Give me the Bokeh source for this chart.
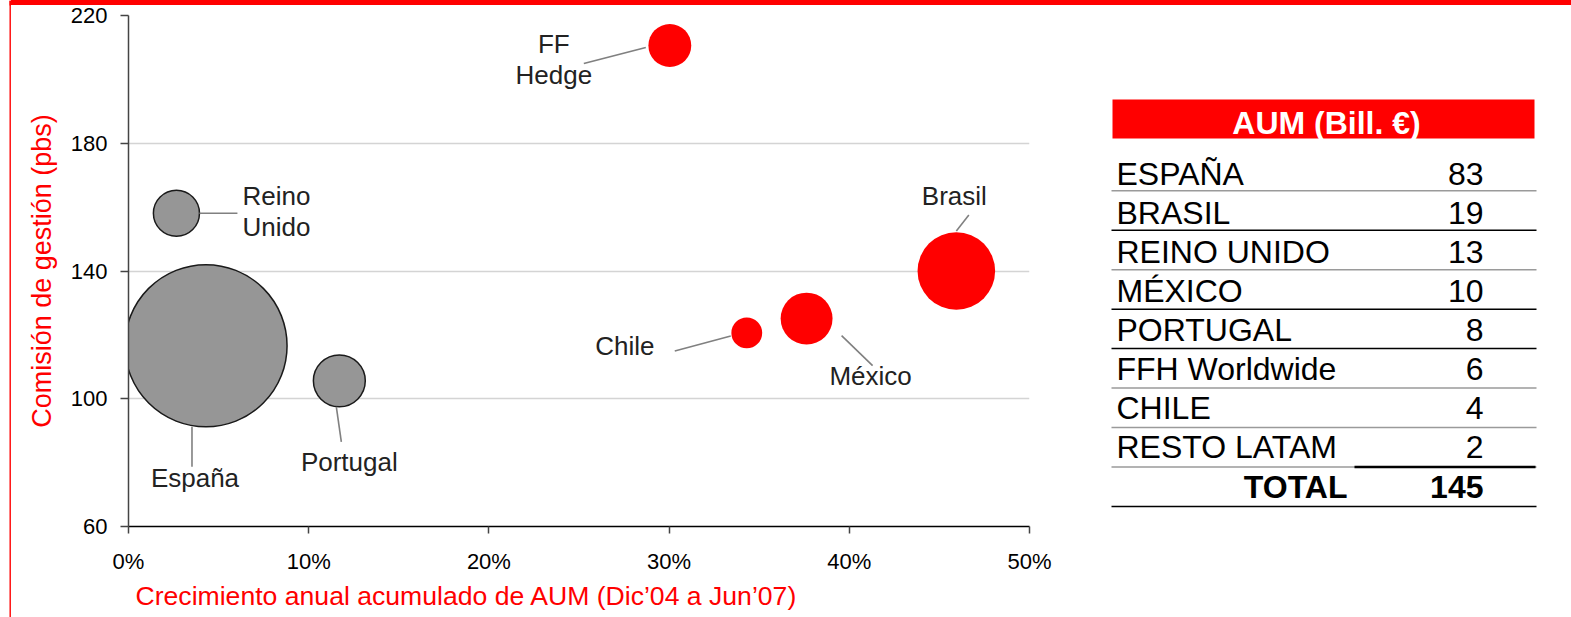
import math

from bokeh.core.properties import value
from bokeh.embed import file_html
from bokeh.layouts import column, row
from bokeh.models import ColumnDataSource, FixedTicker, NumeralTickFormatter, Range1d, Title
from bokeh.plotting import figure
from bokeh.resources import INLINE

FONT = "Liberation Sans"
RED = "#ff0000"

# ---- bubble chart data -------------------------------------------------
units = ["España", "Reino Unido", "Portugal", "FF Hedge", "Chile", "México", "Brasil"]
unit_labels = ["España", "Reino\nUnido", "Portugal", "FF\nHedge", "Chile", "México", "Brasil"]
aum_growth = [0.043, 0.0266, 0.117, 0.3004, 0.3431, 0.3763, 0.4594]   # CAGR of AUM
mgmt_fee = [116.6, 158.1, 105.6, 210.6, 120.6, 125.1, 140.0]           # bps
bubble_aum = [83, 6.7, 8.5, 5.8, 3.0, 8.5, 19]                         # bubble area (bn EUR)
unit_group = ["core", "core", "core", "growth", "growth", "growth", "growth"]

x_ticks = [0, 0.1, 0.2, 0.3, 0.4, 0.5]
y_ticks = [60, 100, 140, 180, 220]
x_title = "Crecimiento anual acumulado de AUM (Dic’04 a Jun’07)"
y_title = "Comisión de gestión (pbs)"

# ---- AUM table data ----------------------------------------------------
table_title = "AUM (Bill. €)"
table_names = ["ESPAÑA", "BRASIL", "REINO UNIDO", "MÉXICO", "PORTUGAL",
               "FFH Worldwide", "CHILE", "RESTO LATAM"]
table_aum = [83, 19, 13, 10, 8, 6, 4, 2]

# ---- layout constants (pixels) ----------------------------------------
PAGE_W, PAGE_H = 1571, 617
BAR_H = 5                 # red rule along the top
STRIP_W = 11
MAIN_W, TABLE_W = 1079, 481
B_LEFT, B_RIGHT, B_TOP, B_BOTTOM = 117, 61, 15, 91
FRAME_W = MAIN_W - B_LEFT - B_RIGHT
FRAME_H = PAGE_H - B_TOP - B_BOTTOM
X_MIN, X_MAX, Y_MIN, Y_MAX = 0.0, 0.5, 60, 220
PX_X = FRAME_W / (X_MAX - X_MIN)
PX_Y = FRAME_H / (Y_MAX - Y_MIN)
BUBBLE_K = 17.8           # diameter px per sqrt(bn EUR)
DROP = 0.35               # baseline correction for text glyphs, in em
TOP_RULE_CSS = {"background": f"linear-gradient(to bottom, {RED} 0px, {RED} {BAR_H}px, #ffffff {BAR_H}px)"}

# label placement relative to bubble centre, in screen pixels (y down, baseline)
label_layout = {
    "España":      dict(text=(-11, 141), align="center", lead=(-14, 81, -14, 121)),
    "Reino Unido": dict(text=(66, -8), align="left", lead=(23, 0, 61, 0)),
    "Portugal":    dict(text=(10, 90), align="center", lead=(-3, 26, 2, 61)),
    "FF Hedge":    dict(text=(-116, 8), align="center", lead=(-86, 18, -24, 2)),
    "Chile":       dict(text=(-122, 22), align="center", lead=(-72, 18, -16, 3)),
    "México":      dict(text=(64, 67), align="center", lead=(35, 17, 66, 47)),
    "Brasil":      dict(text=(-2, -66), align="center", lead=(0, -40, 12.5, -56)),
}
LABEL_PX = 26
LINE_STEP = 31

group_style = {
    "core": dict(fill="#969696", line="#1a1a1a", width=1.5),
    "growth": dict(fill=RED, line=None, width=0),
}


def canvas(width, x0, x1):
    """Axis-free, full-height figure whose data units are page pixels (y down)."""
    fig = figure(width=width, height=PAGE_H, x_range=Range1d(x0, x1), y_range=Range1d(PAGE_H, 0),
                 x_axis_location=None, y_axis_location=None, min_border=0,
                 min_border_left=0, min_border_right=0, min_border_top=0, min_border_bottom=0,
                 output_backend="svg", toolbar_location=None)
    fig.grid.visible = False
    fig.outline_line_color = None
    fig.background_fill_color = "white"
    fig.border_fill_color = "white"
    return fig


# ---- left red rule -----------------------------------------------------
strip = canvas(STRIP_W, 0, STRIP_W)
strip.quad(left=[9, 9], right=[10.4, STRIP_W], bottom=[PAGE_H, BAR_H], top=[0, 0],
           fill_color=RED, line_color=None)

# ---- bubble chart ------------------------------------------------------
p = figure(width=MAIN_W, height=PAGE_H, x_range=Range1d(X_MIN, X_MAX), y_range=Range1d(Y_MIN, Y_MAX),
           min_border_left=B_LEFT, min_border_right=B_RIGHT, min_border_top=B_TOP,
           min_border_bottom=B_BOTTOM, output_backend="svg", toolbar_location=None)
p.outline_line_color = None
p.background_fill_color = "white"
p.border_fill_color = None
# the red rule continues across the top margin of the chart
p.styles = TOP_RULE_CSS
p.xgrid.visible = False
p.ygrid.ticker = FixedTicker(ticks=y_ticks)
p.ygrid.grid_line_color = "#d4d4d4"
p.ygrid.grid_line_width = 1.5

p.xaxis.ticker = FixedTicker(ticks=x_ticks)
p.xaxis.formatter = NumeralTickFormatter(format="0%")
p.yaxis.ticker = FixedTicker(ticks=y_ticks)
for ax, tick_out, line_color in ((p.xaxis, 7, "#000000"), (p.yaxis, 8, "#444444")):
    ax.major_tick_out = tick_out
    ax.major_tick_in = 0
    ax.minor_tick_line_color = None
    ax.axis_line_color = line_color
    ax.axis_line_width = 1.5
    ax.major_tick_line_color = "#444444"
    ax.major_tick_line_width = 1.5
    ax.major_label_text_font = FONT
    ax.major_label_text_font_size = "22px"
    ax.major_label_text_color = "#000000"
p.xaxis.major_label_standoff = 15
p.yaxis.major_label_standoff = 13
p.yaxis.axis_label = y_title
p.yaxis.axis_label_text_font = FONT
p.yaxis.axis_label_text_font_size = "27px"
p.yaxis.axis_label_text_font_style = "normal"
p.yaxis.axis_label_text_color = RED
p.yaxis.axis_label_standoff = 11

p.add_layout(Title(text=x_title, align="left", offset=7, standoff=4, text_font=FONT,
                   text_font_size="26.6px", text_font_style="normal", text_color=RED), "below")

# bubbles
for grp, st in group_style.items():
    idx = [i for i, g in enumerate(unit_group) if g == grp]
    src = ColumnDataSource(dict(
        x=[aum_growth[i] for i in idx],
        y=[mgmt_fee[i] for i in idx],
        size=[BUBBLE_K * math.sqrt(bubble_aum[i]) for i in idx],
    ))
    p.scatter("x", "y", size="size", source=src, fill_color=st["fill"],
              line_color=st["line"], line_width=st["width"])

# leader lines and bubble labels
lead = dict(x0=[], y0=[], x1=[], y1=[])
txt = dict(x=[], y=[], text=[], dx=[], dy=[], align=[])
for name, lab, gx, fy in zip(units, unit_labels, aum_growth, mgmt_fee):
    lay = label_layout[name]
    lx0, ly0, lx1, ly1 = lay["lead"]
    lead["x0"].append(gx + lx0 / PX_X)
    lead["y0"].append(fy - ly0 / PX_Y)
    lead["x1"].append(gx + lx1 / PX_X)
    lead["y1"].append(fy - ly1 / PX_Y)
    tx, ty = lay["text"]
    for k, line in enumerate(lab.split("\n")):
        txt["x"].append(gx)
        txt["y"].append(fy)
        txt["text"].append(line)
        txt["dx"].append(tx)
        txt["dy"].append(ty + k * LINE_STEP - DROP * LABEL_PX)
        txt["align"].append(lay["align"])

p.segment("x0", "y0", "x1", "y1", source=ColumnDataSource(lead), line_color="#808080", line_width=1.6)
p.text("x", "y", text="text", x_offset="dx", y_offset="dy", text_align="align",
       source=ColumnDataSource(txt), text_baseline="alphabetic", text_font=value(FONT),
       text_font_size=f"{LABEL_PX}px", text_color="#222222")

# ---- AUM table ---------------------------------------------------------
X0 = STRIP_W + MAIN_W
t = canvas(TABLE_W, X0, PAGE_W)
t.background_fill_color = None
t.border_fill_color = None
t.styles = TOP_RULE_CSS

TABLE_PX = 32
T_LEFT, T_RIGHT = 1111, 1536
HEAD_L, HEAD_R, HEAD_T, HEAD_B = 1112, 1534, 99, 138
NAME_X, NUM_X, TOTAL_X = 1116, 1483, 1347
BASE0, LINE0, ROW_STEP, RULE_STEP = 184.8, 190.3, 39.05, 39.45
shift = DROP * TABLE_PX

t.quad(left=HEAD_L, right=HEAD_R, top=HEAD_T, bottom=HEAD_B, fill_color=RED, line_color=None)
t.text(x=[(HEAD_L + HEAD_R) / 2 + 3], y=[133.3 - shift], text=[table_title], text_align="center",
       text_baseline="alphabetic", text_font=value(FONT), text_font_style="bold",
       text_font_size=f"{TABLE_PX}px", text_color="white")

n = len(table_names)
baselines = [BASE0 + i * ROW_STEP - shift for i in range(n + 1)]
rule_y = [LINE0 + i * RULE_STEP for i in range(n + 1)]
rule_colors = ["#9a9a9a", "#000000", "#9a9a9a", "#000000", "#000000", "#9a9a9a", "#9a9a9a", "#9a9a9a", "#000000"]

t.segment(x0=[T_LEFT] * (n + 1), x1=[T_RIGHT] * (n + 1), y0=rule_y, y1=rule_y,
          line_color=rule_colors, line_width=1.5)
# heavy rule above the total figure
t.segment(x0=[1354], x1=[1535], y0=[rule_y[n - 1]], y1=[rule_y[n - 1]], line_color="#000000", line_width=2.5)

t.text(x=[NAME_X] * n, y=baselines[:n], text=table_names, text_align="left", text_baseline="alphabetic",
       text_font=value(FONT), text_font_size=f"{TABLE_PX}px", text_color="#000000")
t.text(x=[NUM_X] * n, y=baselines[:n], text=[str(v) for v in table_aum], text_align="right",
       text_baseline="alphabetic", text_font=value(FONT), text_font_size=f"{TABLE_PX}px", text_color="#000000")
t.text(x=[TOTAL_X, NUM_X], y=[baselines[n]] * 2, text=["TOTAL", str(sum(table_aum))], text_align="right",
       text_baseline="alphabetic", text_font=value(FONT), text_font_style="bold",
       text_font_size=f"{TABLE_PX}px", text_color="#000000")

# the chart sits in its own column so its frame is not aligned with the other panels
layout = row(column(strip), column(p), column(t), spacing=0)
open("out.html", "w").write(file_html(layout, INLINE))
